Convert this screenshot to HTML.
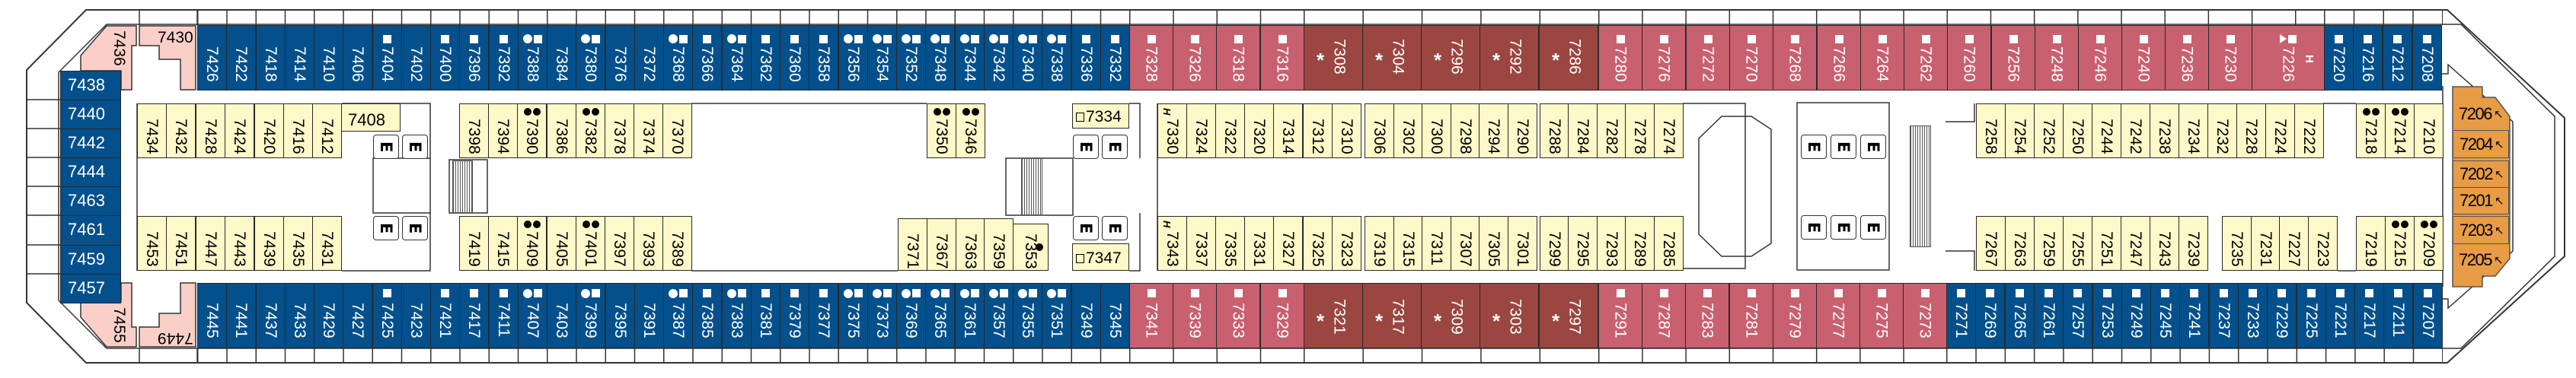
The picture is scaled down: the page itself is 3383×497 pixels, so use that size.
<!DOCTYPE html>
<html><head><meta charset="utf-8">
<style>
html,body{margin:0;padding:0;background:#fff}
#w{position:relative;width:3383px;height:497px;overflow:hidden;background:#fff;font-family:"Liberation Sans",sans-serif}
.c{position:absolute;box-sizing:border-box;width:39px;border:1.5px solid #2a2a2a;display:flex;flex-direction:column;align-items:center;font-size:21px;line-height:1}
.c span{writing-mode:vertical-rl}
.B{background:#03508c;color:#fff}
.P{background:#c9606f;color:#fff}
.D{background:#9b4641;color:#fff}
.Y{background:#fff8c9;color:#000}
.L{background:#f9cfc8;color:#000}
.r1{top:33px;height:86px;padding-top:10px}
.r4{top:372px;height:86px;padding-top:6px}
.r4 .m{height:13px;margin-bottom:6px}
.r2{top:136px;height:72px;padding-top:3px}
.r3{top:284px;height:72px;padding-top:3px}
.m{display:flex;gap:2px;align-items:center;height:14px;margin-bottom:3px}
.r2 .m,.r3 .m{height:13px;margin-bottom:3px}
.s{display:block;width:11px;height:11px;background:#fff}
.o{display:block;width:12px;height:12px;border-radius:50%;background:#fff}
.k{display:block;width:10px;height:10px;border-radius:50%;background:#000}
.pw{width:58px}
.dw{width:78px}
.D span{margin-left:16px}
.D em{position:absolute;left:16px;font-style:normal;font-weight:bold;font-size:26px}
.r1.D{padding-top:17px}.r1.D em{top:32px}
.r4.D{padding-top:20px}.r4.D em{top:36px}
.lb{position:absolute;left:79px;width:80px;box-sizing:border-box;border:1.5px solid #2a2a2a;background:#03508c;color:#fff;font-size:22px;line-height:36px;padding-left:9px}
.or{position:absolute;left:3221px;width:74px;box-sizing:border-box;border:1.5px solid #555;background:#e89c45;color:#000;font-size:22px;letter-spacing:-1.5px;padding-left:8px;display:flex;align-items:center}
.or i{font-style:normal;font-size:15px;margin-left:3px}
.e{position:absolute;width:34px;height:32px;box-sizing:border-box;border:1.5px solid #333;border-radius:4px;background:#fff;display:flex;align-items:center;justify-content:center;font:bold 21px "DejaVu Sans",sans-serif}
.e span{writing-mode:vertical-rl}
.bal{position:absolute;height:20px}
.st{position:absolute;background:repeating-linear-gradient(90deg,#555 0 1px,#fff 1px 3px);border:1px solid #555;box-sizing:border-box}
.bx{position:absolute;box-sizing:border-box;border:1.5px solid #2a2a2a;background:#fff8c9;font-size:22px;color:#000}
</style></head><body><div id="w">

<svg width="3383" height="497" style="position:absolute;left:0;top:0" fill="none" stroke="#333">
<path d="M113 13H3214L3368 155V337L3214 477H113L35 398V92Z" stroke-width="2"/>
<path d="M140 32H3232L3355 153V337L3232 458H140L77 395V95Z" stroke-width="1.5"/>
<path d="M35 131H79M35 169H79M35 207H79M35 245H79M35 283H79M35 322H79M35 360H79M183 13V33M259 13V33M183 458V477M259 458V477" stroke-width="1.5"/>
<path d="M180 136V356M449 136H565V208M449 356H565V280M490 208H565V280H490Z" stroke-width="1.5"/>
<rect x="590" y="210" width="50" height="70" stroke-width="1.5"/>
<path d="M908 136H1217M908 356H1179M1483 136H1497V208M1483 356H1497V280M1520 136V356M1321 208H1409V283H1321Z" stroke-width="1.5"/>
<path d="M2210 136H2292V353H2210M2231 182L2261 153H2300L2326 170V320L2300 337H2261L2231 308Z" stroke-width="1.5"/>
<rect x="2360" y="135" width="121" height="220" stroke-width="1.5"/>
<path d="M2555 160H2593V136M2555 330H2593V356M3051 136H3094M3070 356H3094M3208 113V377M3207 97H3215V85L3300 160V330L3215 405V393H3207" stroke-width="1.5"/>
<path d="M1085 118a12 12 0 0 1 12 -10M1085 373a12 12 0 0 0 12 10M1483 118a12 12 0 0 1 12-10M1483 373a12 12 0 0 0 12 10" stroke-width="1.5"/>
</svg>

<!-- balconies -->
<div class="bal" style="left:259px;top:13px;width:1224px;background:linear-gradient(90deg,#333 1.5px,transparent 1.5px) 0 0/38.25px 100% repeat-x"></div>
<div class="bal" style="left:1483px;top:13px;width:229px;background:linear-gradient(90deg,#333 1.5px,transparent 1.5px) 0 0/57.25px 100% repeat-x"></div>
<div class="bal" style="left:1712px;top:13px;width:387px;background:linear-gradient(90deg,#333 1.5px,transparent 1.5px) 0 0/77.4px 100% repeat-x"></div>
<div class="bal" style="left:2099px;top:13px;width:953px;background:linear-gradient(90deg,#333 1.5px,transparent 1.5px) 0 0/57.2px 100% repeat-x"></div>
<div class="bal" style="left:3052px;top:13px;width:156px;background:linear-gradient(90deg,#333 1.5px,transparent 1.5px) 0 0/38.75px 100% repeat-x"></div>
<div class="bal" style="left:259px;top:458px;width:1224px;background:linear-gradient(90deg,#333 1.5px,transparent 1.5px) 0 0/38.25px 100% repeat-x"></div>
<div class="bal" style="left:1483px;top:458px;width:229px;background:linear-gradient(90deg,#333 1.5px,transparent 1.5px) 0 0/57.25px 100% repeat-x"></div>
<div class="bal" style="left:1712px;top:458px;width:387px;background:linear-gradient(90deg,#333 1.5px,transparent 1.5px) 0 0/77.4px 100% repeat-x"></div>
<div class="bal" style="left:2099px;top:458px;width:457px;background:linear-gradient(90deg,#333 1.5px,transparent 1.5px) 0 0/57.2px 100% repeat-x"></div>
<div class="bal" style="left:2556px;top:458px;width:652px;background:linear-gradient(90deg,#333 1.5px,transparent 1.5px) 0 0/38.3px 100% repeat-x"></div>

<!-- left end pink -->
<svg width="3383" height="497" style="position:absolute;left:0;top:0">
<polygon points="140,34 179,34 179,60 173,60 173,118 159,118 159,93 106,93 106,73" fill="#f9cfc8" stroke="#333" stroke-width="1.5"/>
<polygon points="183,34 257,34 257,118 237,118 237,78 209,78 209,60 183,60" fill="#f9cfc8" stroke="#333" stroke-width="1.5"/>
<polygon points="140,456 179,456 179,430 173,430 173,372 159,372 159,397 106,397 106,417" fill="#f9cfc8" stroke="#333" stroke-width="1.5"/>
<polygon points="183,456 257,456 257,372 237,372 237,412 209,412 209,430 183,430" fill="#f9cfc8" stroke="#333" stroke-width="1.5"/>
<polygon points="3221,114 3260,114 3260,128 3277,128 3296,153 3296,340 3277,363 3260,363 3260,377 3221,377" fill="#e89c45" stroke="#555" stroke-width="1.5"/>
</svg>
<div style="position:absolute;left:144px;top:40px;font-size:21px;writing-mode:vertical-rl">7436</div>
<div style="position:absolute;left:207px;top:38px;font-size:21px">7430</div>
<div style="position:absolute;left:144px;top:404px;font-size:21px;writing-mode:vertical-rl">7455</div>
<div style="position:absolute;left:207px;top:432px;font-size:21px;transform:rotate(180deg)">7449</div>

<div class="lb" style="top:93px;height:39px">7438</div>
<div class="lb" style="top:131px;height:39px">7440</div>
<div class="lb" style="top:169px;height:39px">7442</div>
<div class="lb" style="top:207px;height:39px">7444</div>
<div class="lb" style="top:245px;height:39px">7463</div>
<div class="lb" style="top:283px;height:40px">7461</div>
<div class="lb" style="top:322px;height:39px">7459</div>
<div class="lb" style="top:360px;height:39px">7457</div>

<!-- TOP OUTER -->
<div class="c B r1" style="left:259px"><i class=m></i><span>7426</span></div>
<div class="c B r1" style="left:297px"><i class=m></i><span>7422</span></div>
<div class="c B r1" style="left:336px"><i class=m></i><span>7418</span></div>
<div class="c B r1" style="left:374px"><i class=m></i><span>7414</span></div>
<div class="c B r1" style="left:412px"><i class=m></i><span>7410</span></div>
<div class="c B r1" style="left:450px"><i class=m></i><span>7406</span></div>
<div class="c B r1" style="left:489px"><i class=m><b class=s></b></i><span>7404</span></div>
<div class="c B r1" style="left:527px"><i class=m></i><span>7402</span></div>
<div class="c B r1" style="left:565px"><i class=m><b class=s></b></i><span>7400</span></div>
<div class="c B r1" style="left:603px"><i class=m><b class=s></b></i><span>7396</span></div>
<div class="c B r1" style="left:642px"><i class=m><b class=s></b></i><span>7392</span></div>
<div class="c B r1" style="left:680px"><i class=m><b class=o></b><b class=s></b></i><span>7388</span></div>
<div class="c B r1" style="left:718px"><i class=m></i><span>7384</span></div>
<div class="c B r1" style="left:756px"><i class=m><b class=o></b><b class=s></b></i><span>7380</span></div>
<div class="c B r1" style="left:795px"><i class=m></i><span>7376</span></div>
<div class="c B r1" style="left:833px"><i class=m></i><span>7372</span></div>
<div class="c B r1" style="left:871px"><i class=m><b class=o></b><b class=s></b></i><span>7368</span></div>
<div class="c B r1" style="left:909px"><i class=m><b class=s></b></i><span>7366</span></div>
<div class="c B r1" style="left:948px"><i class=m><b class=o></b><b class=s></b></i><span>7364</span></div>
<div class="c B r1" style="left:986px"><i class=m><b class=s></b></i><span>7362</span></div>
<div class="c B r1" style="left:1024px"><i class=m><b class=s></b></i><span>7360</span></div>
<div class="c B r1" style="left:1062px"><i class=m><b class=s></b></i><span>7358</span></div>
<div class="c B r1" style="left:1101px"><i class=m><b class=o></b><b class=s></b></i><span>7356</span></div>
<div class="c B r1" style="left:1139px"><i class=m><b class=o></b><b class=s></b></i><span>7354</span></div>
<div class="c B r1" style="left:1177px"><i class=m><b class=o></b><b class=s></b></i><span>7352</span></div>
<div class="c B r1" style="left:1215px"><i class=m><b class=o></b><b class=s></b></i><span>7348</span></div>
<div class="c B r1" style="left:1254px"><i class=m><b class=o></b><b class=s></b></i><span>7344</span></div>
<div class="c B r1" style="left:1292px"><i class=m><b class=o></b><b class=s></b></i><span>7342</span></div>
<div class="c B r1" style="left:1330px"><i class=m><b class=o></b><b class=s></b></i><span>7340</span></div>
<div class="c B r1" style="left:1368px"><i class=m><b class=o></b><b class=s></b></i><span>7338</span></div>
<div class="c B r1" style="left:1407px"><i class=m><b class=s></b></i><span>7336</span></div>
<div class="c B r1" style="left:1445px"><i class=m><b class=s></b></i><span>7332</span></div>
<div class="c P r1 pw" style="left:1483px"><i class=m><b class=s></b></i><span>7328</span></div>
<div class="c P r1 pw" style="left:1540px"><i class=m><b class=s></b></i><span>7326</span></div>
<div class="c P r1 pw" style="left:1597px"><i class=m><b class=s></b></i><span>7318</span></div>
<div class="c P r1 pw" style="left:1655px"><i class=m><b class=s></b></i><span>7316</span></div>
<div class="c D r1 dw" style="left:1712px"><span>7308</span><em>*</em></div>
<div class="c D r1 dw" style="left:1789px"><span>7304</span><em>*</em></div>
<div class="c D r1 dw" style="left:1866px"><span>7296</span><em>*</em></div>
<div class="c D r1 dw" style="left:1943px"><span>7292</span><em>*</em></div>
<div class="c D r1 dw" style="left:2021px"><span>7286</span><em>*</em></div>
<div class="c P r1 pw" style="left:2099px"><i class=m><b class=s></b></i><span>7280</span></div>
<div class="c P r1 pw" style="left:2156px"><i class=m><b class=s></b></i><span>7276</span></div>
<div class="c P r1 pw" style="left:2214px"><i class=m><b class=s></b></i><span>7272</span></div>
<div class="c P r1 pw" style="left:2271px"><i class=m><b class=s></b></i><span>7270</span></div>
<div class="c P r1 pw" style="left:2328px"><i class=m><b class=s></b></i><span>7268</span></div>
<div class="c P r1 pw" style="left:2386px"><i class=m><b class=s></b></i><span>7266</span></div>
<div class="c P r1 pw" style="left:2443px"><i class=m><b class=s></b></i><span>7264</span></div>
<div class="c P r1 pw" style="left:2500px"><i class=m><b class=s></b></i><span>7262</span></div>
<div class="c P r1 pw" style="left:2557px"><i class=m><b class=s></b></i><span>7260</span></div>
<div class="c P r1 pw" style="left:2615px"><i class=m><b class=s></b></i><span>7256</span></div>
<div class="c P r1 pw" style="left:2672px"><i class=m><b class=s></b></i><span>7248</span></div>
<div class="c P r1 pw" style="left:2729px"><i class=m><b class=s></b></i><span>7246</span></div>
<div class="c P r1 pw" style="left:2786px"><i class=m><b class=s></b></i><span>7240</span></div>
<div class="c P r1 pw" style="left:2843px"><i class=m><b class=s></b></i><span>7236</span></div>
<div class="c P r1 pw" style="left:2900px"><i class=m><b class=s></b></i><span>7230</span></div>
<div class="c P r1" style="left:2957px;width:96px"><i class=m><b style="width:0;height:0;border-top:6px solid transparent;border-bottom:6px solid transparent;border-left:9px solid #fff"></b><b class=s></b></i><span>7226</span><b style="position:absolute;left:67px;top:38px;font-size:15px;writing-mode:vertical-rl">H</b></div>
<div class="c B r1" style="left:3052px"><i class=m><b class=s></b></i><span>7220</span></div>
<div class="c B r1" style="left:3090px"><i class=m><b class=s></b></i><span>7216</span></div>
<div class="c B r1" style="left:3129px"><i class=m><b class=s></b></i><span>7212</span></div>
<div class="c B r1" style="left:3168px"><i class=m><b class=s></b></i><span>7208</span></div>

<!-- BOTTOM OUTER -->
<div class="c B r4" style="left:259px"><i class=m></i><span>7445</span></div>
<div class="c B r4" style="left:297px"><i class=m></i><span>7441</span></div>
<div class="c B r4" style="left:336px"><i class=m></i><span>7437</span></div>
<div class="c B r4" style="left:374px"><i class=m></i><span>7433</span></div>
<div class="c B r4" style="left:412px"><i class=m></i><span>7429</span></div>
<div class="c B r4" style="left:450px"><i class=m></i><span>7427</span></div>
<div class="c B r4" style="left:489px"><i class=m><b class=s></b></i><span>7425</span></div>
<div class="c B r4" style="left:527px"><i class=m></i><span>7423</span></div>
<div class="c B r4" style="left:565px"><i class=m><b class=s></b></i><span>7421</span></div>
<div class="c B r4" style="left:603px"><i class=m><b class=s></b></i><span>7417</span></div>
<div class="c B r4" style="left:642px"><i class=m><b class=s></b></i><span>7411</span></div>
<div class="c B r4" style="left:680px"><i class=m><b class=o></b><b class=s></b></i><span>7407</span></div>
<div class="c B r4" style="left:718px"><i class=m></i><span>7403</span></div>
<div class="c B r4" style="left:756px"><i class=m><b class=o></b><b class=s></b></i><span>7399</span></div>
<div class="c B r4" style="left:795px"><i class=m></i><span>7395</span></div>
<div class="c B r4" style="left:833px"><i class=m></i><span>7391</span></div>
<div class="c B r4" style="left:871px"><i class=m><b class=o></b><b class=s></b></i><span>7387</span></div>
<div class="c B r4" style="left:909px"><i class=m><b class=s></b></i><span>7385</span></div>
<div class="c B r4" style="left:948px"><i class=m><b class=o></b><b class=s></b></i><span>7383</span></div>
<div class="c B r4" style="left:986px"><i class=m><b class=s></b></i><span>7381</span></div>
<div class="c B r4" style="left:1024px"><i class=m><b class=s></b></i><span>7379</span></div>
<div class="c B r4" style="left:1062px"><i class=m><b class=s></b></i><span>7377</span></div>
<div class="c B r4" style="left:1101px"><i class=m><b class=o></b><b class=s></b></i><span>7375</span></div>
<div class="c B r4" style="left:1139px"><i class=m><b class=o></b><b class=s></b></i><span>7373</span></div>
<div class="c B r4" style="left:1177px"><i class=m><b class=o></b><b class=s></b></i><span>7369</span></div>
<div class="c B r4" style="left:1215px"><i class=m><b class=o></b><b class=s></b></i><span>7365</span></div>
<div class="c B r4" style="left:1254px"><i class=m><b class=o></b><b class=s></b></i><span>7361</span></div>
<div class="c B r4" style="left:1292px"><i class=m><b class=o></b><b class=s></b></i><span>7357</span></div>
<div class="c B r4" style="left:1330px"><i class=m><b class=o></b><b class=s></b></i><span>7355</span></div>
<div class="c B r4" style="left:1368px"><i class=m><b class=o></b><b class=s></b></i><span>7351</span></div>
<div class="c B r4" style="left:1407px"><i class=m></i><span>7349</span></div>
<div class="c B r4" style="left:1445px"><i class=m></i><span>7345</span></div>
<div class="c P r4 pw" style="left:1483px"><i class=m><b class=s></b></i><span>7341</span></div>
<div class="c P r4 pw" style="left:1540px"><i class=m><b class=s></b></i><span>7339</span></div>
<div class="c P r4 pw" style="left:1597px"><i class=m><b class=s></b></i><span>7333</span></div>
<div class="c P r4 pw" style="left:1655px"><i class=m><b class=s></b></i><span>7329</span></div>
<div class="c D r4 dw" style="left:1712px"><span>7321</span><em>*</em></div>
<div class="c D r4 dw" style="left:1789px"><span>7317</span><em>*</em></div>
<div class="c D r4 dw" style="left:1866px"><span>7309</span><em>*</em></div>
<div class="c D r4 dw" style="left:1943px"><span>7303</span><em>*</em></div>
<div class="c D r4 dw" style="left:2021px"><span>7297</span><em>*</em></div>
<div class="c P r4 pw" style="left:2099px"><i class=m><b class=s></b></i><span>7291</span></div>
<div class="c P r4 pw" style="left:2156px"><i class=m><b class=s></b></i><span>7287</span></div>
<div class="c P r4 pw" style="left:2213px"><i class=m><b class=s></b></i><span>7283</span></div>
<div class="c P r4 pw" style="left:2271px"><i class=m><b class=s></b></i><span>7281</span></div>
<div class="c P r4 pw" style="left:2328px"><i class=m><b class=s></b></i><span>7279</span></div>
<div class="c P r4 pw" style="left:2385px"><i class=m><b class=s></b></i><span>7277</span></div>
<div class="c P r4 pw" style="left:2442px"><i class=m><b class=s></b></i><span>7275</span></div>
<div class="c P r4 pw" style="left:2499px"><i class=m><b class=s></b></i><span>7273</span></div>
<div class="c B r4" style="left:2556px"><i class=m><b class=s></b></i><span>7271</span></div>
<div class="c B r4" style="left:2594px"><i class=m><b class=s></b></i><span>7269</span></div>
<div class="c B r4" style="left:2633px"><i class=m><b class=s></b></i><span>7265</span></div>
<div class="c B r4" style="left:2671px"><i class=m><b class=s></b></i><span>7261</span></div>
<div class="c B r4" style="left:2709px"><i class=m><b class=s></b></i><span>7257</span></div>
<div class="c B r4" style="left:2748px"><i class=m><b class=s></b></i><span>7253</span></div>
<div class="c B r4" style="left:2786px"><i class=m><b class=s></b></i><span>7249</span></div>
<div class="c B r4" style="left:2824px"><i class=m><b class=s></b></i><span>7245</span></div>
<div class="c B r4" style="left:2862px"><i class=m><b class=s></b></i><span>7241</span></div>
<div class="c B r4" style="left:2901px"><i class=m><b class=s></b></i><span>7237</span></div>
<div class="c B r4" style="left:2939px"><i class=m><b class=s></b></i><span>7233</span></div>
<div class="c B r4" style="left:2977px"><i class=m><b class=s></b></i><span>7229</span></div>
<div class="c B r4" style="left:3016px"><i class=m><b class=s></b></i><span>7225</span></div>
<div class="c B r4" style="left:3054px"><i class=m><b class=s></b></i><span>7221</span></div>
<div class="c B r4" style="left:3092px"><i class=m><b class=s></b></i><span>7217</span></div>
<div class="c B r4" style="left:3130px"><i class=m><b class=s></b></i><span>7211</span></div>
<div class="c B r4" style="left:3169px"><i class=m><b class=s></b></i><span>7207</span></div>

<!-- INNER TOP -->
<div class="c Y r2" style="left:180px"><i class=m></i><span>7434</span></div>
<div class="c Y r2" style="left:218px"><i class=m></i><span>7432</span></div>
<div class="c Y r2" style="left:257px"><i class=m></i><span>7428</span></div>
<div class="c Y r2" style="left:295px"><i class=m></i><span>7424</span></div>
<div class="c Y r2" style="left:334px"><i class=m></i><span>7420</span></div>
<div class="c Y r2" style="left:372px"><i class=m></i><span>7416</span></div>
<div class="c Y r2" style="left:410px"><i class=m></i><span>7412</span></div>
<div class="bx" style="left:448px;top:136px;width:78px;height:37px;padding:8px 0 0 8px">7408</div>
<div class="c Y r2" style="left:603px"><i class=m></i><span>7398</span></div>
<div class="c Y r2" style="left:641px"><i class=m></i><span>7394</span></div>
<div class="c Y r2" style="left:679px"><i class=m><b class=k></b><b class=k></b></i><span>7390</span></div>
<div class="c Y r2" style="left:718px"><i class=m></i><span>7386</span></div>
<div class="c Y r2" style="left:756px"><i class=m><b class=k></b><b class=k></b></i><span>7382</span></div>
<div class="c Y r2" style="left:794px"><i class=m></i><span>7378</span></div>
<div class="c Y r2" style="left:832px"><i class=m></i><span>7374</span></div>
<div class="c Y r2" style="left:870px"><i class=m></i><span>7370</span></div>
<div class="c Y r2" style="left:1217px"><i class=m><b class=k></b><b class=k></b></i><span>7350</span></div>
<div class="c Y r2" style="left:1255px"><i class=m><b class=k></b><b class=k></b></i><span>7346</span></div>
<div class="bx" style="left:1408px;top:136px;width:75px;height:33px;padding:5px 0 0 4px;font-size:21px"><b style="display:inline-block;width:9px;height:10px;border:1.5px solid #000;margin-right:2px"></b>7334</div>
<div class="c Y r2" style="left:1520px"><i class=m style="justify-content:flex-start;align-self:flex-start;margin-left:5px"><b style="font-size:13px;writing-mode:vertical-rl">H</b></i><span>7330</span></div>
<div class="c Y r2" style="left:1558px"><i class=m></i><span>7324</span></div>
<div class="c Y r2" style="left:1596px"><i class=m></i><span>7322</span></div>
<div class="c Y r2" style="left:1634px"><i class=m></i><span>7320</span></div>
<div class="c Y r2" style="left:1672px"><i class=m></i><span>7314</span></div>
<div class="c Y r2" style="left:1711px"><i class=m></i><span>7312</span></div>
<div class="c Y r2" style="left:1749px"><i class=m></i><span>7310</span></div>
<div class="c Y r2" style="left:1792px"><i class=m></i><span>7306</span></div>
<div class="c Y r2" style="left:1830px"><i class=m></i><span>7302</span></div>
<div class="c Y r2" style="left:1867px"><i class=m></i><span>7300</span></div>
<div class="c Y r2" style="left:1905px"><i class=m></i><span>7298</span></div>
<div class="c Y r2" style="left:1942px"><i class=m></i><span>7294</span></div>
<div class="c Y r2" style="left:1980px"><i class=m></i><span>7290</span></div>
<div class="c Y r2" style="left:2022px"><i class=m></i><span>7288</span></div>
<div class="c Y r2" style="left:2059px"><i class=m></i><span>7284</span></div>
<div class="c Y r2" style="left:2097px"><i class=m></i><span>7282</span></div>
<div class="c Y r2" style="left:2134px"><i class=m></i><span>7278</span></div>
<div class="c Y r2" style="left:2172px"><i class=m></i><span>7274</span></div>
<div class="c Y r2" style="left:2595px"><i class=m></i><span>7258</span></div>
<div class="c Y r2" style="left:2633px"><i class=m></i><span>7254</span></div>
<div class="c Y r2" style="left:2671px"><i class=m></i><span>7252</span></div>
<div class="c Y r2" style="left:2709px"><i class=m></i><span>7250</span></div>
<div class="c Y r2" style="left:2747px"><i class=m></i><span>7244</span></div>
<div class="c Y r2" style="left:2785px"><i class=m></i><span>7242</span></div>
<div class="c Y r2" style="left:2823px"><i class=m></i><span>7238</span></div>
<div class="c Y r2" style="left:2861px"><i class=m></i><span>7234</span></div>
<div class="c Y r2" style="left:2899px"><i class=m></i><span>7232</span></div>
<div class="c Y r2" style="left:2937px"><i class=m></i><span>7228</span></div>
<div class="c Y r2" style="left:2975px"><i class=m></i><span>7224</span></div>
<div class="c Y r2" style="left:3013px"><i class=m></i><span>7222</span></div>
<div class="c Y r2" style="left:3094px"><i class=m><b class=k></b><b class=k></b></i><span>7218</span></div>
<div class="c Y r2" style="left:3132px"><i class=m><b class=k></b><b class=k></b></i><span>7214</span></div>
<div class="c Y r2" style="left:3170px"><i class=m></i><span>7210</span></div>

<!-- INNER BOTTOM -->
<div class="c Y r3" style="left:180px"><i class=m></i><span>7453</span></div>
<div class="c Y r3" style="left:218px"><i class=m></i><span>7451</span></div>
<div class="c Y r3" style="left:257px"><i class=m></i><span>7447</span></div>
<div class="c Y r3" style="left:295px"><i class=m></i><span>7443</span></div>
<div class="c Y r3" style="left:334px"><i class=m></i><span>7439</span></div>
<div class="c Y r3" style="left:372px"><i class=m></i><span>7435</span></div>
<div class="c Y r3" style="left:410px"><i class=m></i><span>7431</span></div>
<div class="c Y r3" style="left:603px"><i class=m></i><span>7419</span></div>
<div class="c Y r3" style="left:641px"><i class=m></i><span>7415</span></div>
<div class="c Y r3" style="left:679px"><i class=m><b class=k></b><b class=k></b></i><span>7409</span></div>
<div class="c Y r3" style="left:718px"><i class=m></i><span>7405</span></div>
<div class="c Y r3" style="left:756px"><i class=m><b class=k></b><b class=k></b></i><span>7401</span></div>
<div class="c Y r3" style="left:794px"><i class=m></i><span>7397</span></div>
<div class="c Y r3" style="left:832px"><i class=m></i><span>7393</span></div>
<div class="c Y r3" style="left:870px"><i class=m></i><span>7389</span></div>
<div class="c Y r3" style="left:1179px;top:287px;height:69px"><i class=m></i><span>7371</span></div>
<div class="c Y r3" style="left:1217px;top:287px;height:69px"><i class=m></i><span>7367</span></div>
<div class="c Y r3" style="left:1255px;top:287px;height:69px"><i class=m></i><span>7363</span></div>
<div class="c Y r3" style="left:1292px;top:287px;height:69px"><i class=m></i><span>7359</span></div>
<div class="c Y r3" style="left:1330px;top:294px;height:62px;width:47px;padding-top:0"><i class=m style="height:9px"></i><span>7353</span><b class=k style="position:absolute;right:6px;top:25px"></b></div>
<div class="bx" style="left:1408px;top:320px;width:75px;height:36px;padding:7px 0 0 4px;font-size:21px"><b style="display:inline-block;width:9px;height:10px;border:1.5px solid #000;margin-right:2px"></b>7347</div>
<div class="c Y r3" style="left:1520px"><i class=m style="justify-content:flex-start;align-self:flex-start;margin-left:5px"><b style="font-size:13px;writing-mode:vertical-rl">H</b></i><span>7343</span></div>
<div class="c Y r3" style="left:1558px"><i class=m></i><span>7337</span></div>
<div class="c Y r3" style="left:1596px"><i class=m></i><span>7335</span></div>
<div class="c Y r3" style="left:1634px"><i class=m></i><span>7331</span></div>
<div class="c Y r3" style="left:1672px"><i class=m></i><span>7327</span></div>
<div class="c Y r3" style="left:1711px"><i class=m></i><span>7325</span></div>
<div class="c Y r3" style="left:1749px"><i class=m></i><span>7323</span></div>
<div class="c Y r3" style="left:1792px"><i class=m></i><span>7319</span></div>
<div class="c Y r3" style="left:1830px"><i class=m></i><span>7315</span></div>
<div class="c Y r3" style="left:1867px"><i class=m></i><span>7311</span></div>
<div class="c Y r3" style="left:1905px"><i class=m></i><span>7307</span></div>
<div class="c Y r3" style="left:1942px"><i class=m></i><span>7305</span></div>
<div class="c Y r3" style="left:1980px"><i class=m></i><span>7301</span></div>
<div class="c Y r3" style="left:2022px"><i class=m></i><span>7299</span></div>
<div class="c Y r3" style="left:2059px"><i class=m></i><span>7295</span></div>
<div class="c Y r3" style="left:2097px"><i class=m></i><span>7293</span></div>
<div class="c Y r3" style="left:2134px"><i class=m></i><span>7289</span></div>
<div class="c Y r3" style="left:2172px"><i class=m></i><span>7285</span></div>
<div class="c Y r3" style="left:2595px"><i class=m></i><span>7267</span></div>
<div class="c Y r3" style="left:2633px"><i class=m></i><span>7263</span></div>
<div class="c Y r3" style="left:2671px"><i class=m></i><span>7259</span></div>
<div class="c Y r3" style="left:2709px"><i class=m></i><span>7255</span></div>
<div class="c Y r3" style="left:2747px"><i class=m></i><span>7251</span></div>
<div class="c Y r3" style="left:2785px"><i class=m></i><span>7247</span></div>
<div class="c Y r3" style="left:2823px"><i class=m></i><span>7243</span></div>
<div class="c Y r3" style="left:2861px"><i class=m></i><span>7239</span></div>
<div class="c Y r3" style="left:2918px"><i class=m></i><span>7235</span></div>
<div class="c Y r3" style="left:2956px"><i class=m></i><span>7231</span></div>
<div class="c Y r3" style="left:2993px"><i class=m></i><span>7227</span></div>
<div class="c Y r3" style="left:3031px"><i class=m></i><span>7223</span></div>
<div class="c Y r3" style="left:3094px"><i class=m></i><span>7219</span></div>
<div class="c Y r3" style="left:3132px"><i class=m><b class=k></b><b class=k></b></i><span>7215</span></div>
<div class="c Y r3" style="left:3170px"><i class=m><b class=k></b><b class=k></b></i><span>7209</span></div>

<!-- elevators -->
<div class="e" style="left:490px;top:177px"><span>E</span></div>
<div class="e" style="left:528px;top:177px"><span>E</span></div>
<div class="e" style="left:490px;top:284px"><span>E</span></div>
<div class="e" style="left:528px;top:284px"><span>E</span></div>
<div class="e" style="left:1409px;top:177px"><span>E</span></div>
<div class="e" style="left:1447px;top:177px"><span>E</span></div>
<div class="e" style="left:1409px;top:284px"><span>E</span></div>
<div class="e" style="left:1447px;top:284px"><span>E</span></div>
<div class="e" style="left:2365px;top:177px"><span>E</span></div>
<div class="e" style="left:2404px;top:177px"><span>E</span></div>
<div class="e" style="left:2443px;top:177px"><span>E</span></div>
<div class="e" style="left:2365px;top:283px"><span>E</span></div>
<div class="e" style="left:2404px;top:283px"><span>E</span></div>
<div class="e" style="left:2443px;top:283px"><span>E</span></div>

<!-- stairs -->
<div class="st" style="left:594px;top:211px;width:27px;height:69px"></div>
<div class="st" style="left:1341px;top:208px;width:28px;height:75px"></div>
<div class="st" style="left:2508px;top:165px;width:28px;height:160px"></div>

<!-- orange -->
<div class="or" style="top:128px;height:44px;border:none;background:none">7206<i>↖</i></div>
<div class="or" style="top:171px;height:37px">7204<i>↖</i></div>
<div class="or" style="top:211px;height:36px">7202<i>↖</i></div>
<div class="or" style="top:246px;height:36px">7201<i>↖</i></div>
<div class="or" style="top:284px;height:37px">7203<i>↖</i></div>
<div class="or" style="top:320px;height:44px;border:none;background:none">7205<i>↖</i></div>

</div></body></html>
